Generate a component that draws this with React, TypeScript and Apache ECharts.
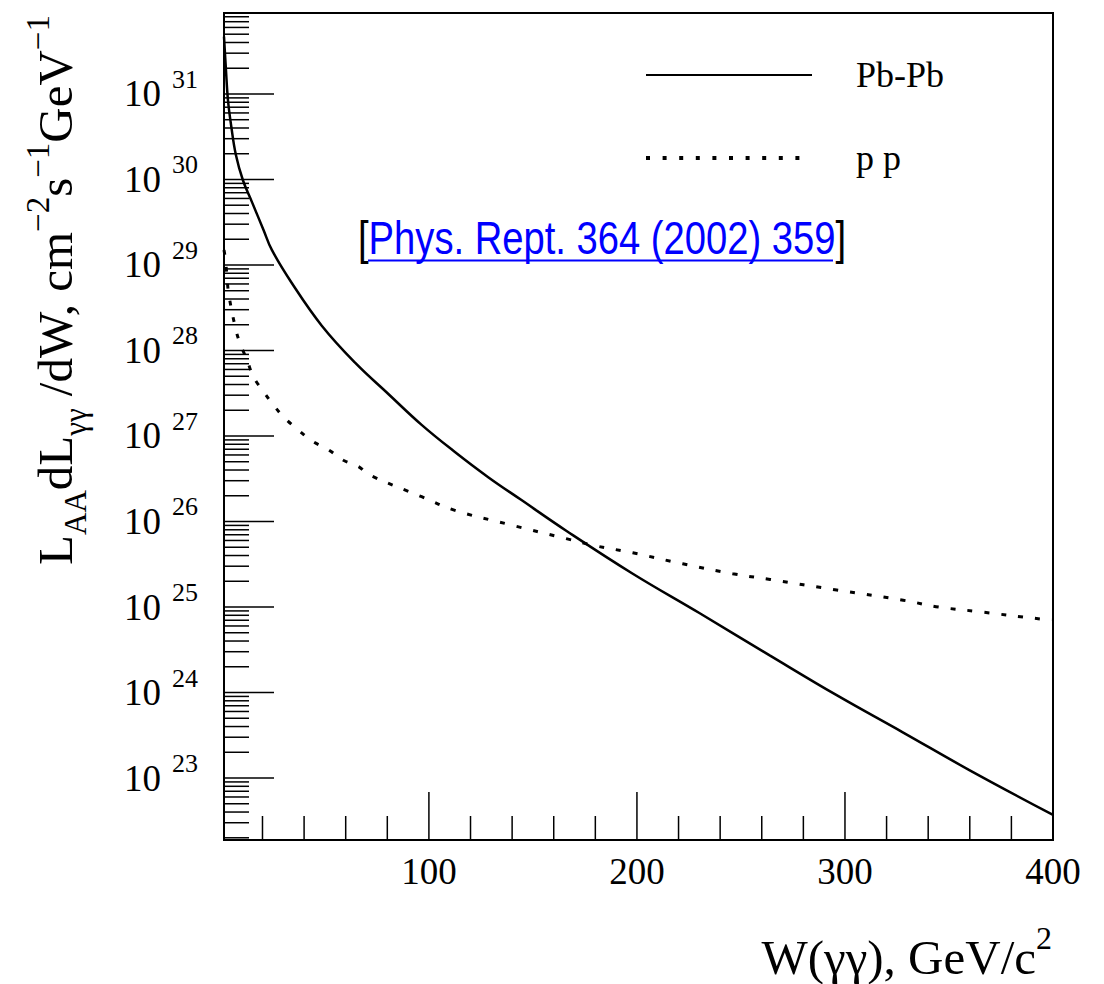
import React, { useEffect, useRef } from "react";
import * as echarts from "echarts";

// ---- data ----
const pbpbW = [1.5, 2.4, 3.4, 5, 7.2, 10.6, 15, 20.5, 24.5, 34, 48.5, 64.5, 80.5, 96.5, 112.5, 128.5, 144.5, 166, 198, 230, 264, 296, 328, 360, 400];
const pbpbL = [4.68e31, 2.0e31, 8.5e30, 4.17e30, 1.95e30, 9.8e29, 5.4e29, 2.57e29, 1.5e29, 6.2e28, 1.95e28, 7.2e27, 3.1e27, 1.35e27, 6.5e26, 3.3e26, 1.78e26, 7.8e25, 2.45e25, 8.5e24, 2.7e24, 9.3e23, 3.4e23, 1.23e23, 3.7e22];

const ppW = [1.5, 2.1, 2.9, 3.7, 6.9, 9.1, 12.5, 15.7, 20.5, 25.3, 30.7, 37.3, 43.7, 51.7, 58.9, 66.1, 71.5, 96.5, 112.5, 138, 166, 180, 198, 222, 246, 264, 296, 328, 345, 363, 395, 400];
const ppL = [1.5e29, 1.2e29, 7.6e28, 4.7e28, 1.88e28, 1.23e28, 7.8e27, 4.9e27, 3.3e27, 2.3e27, 1.62e27, 1.17e27, 8.8e26, 6.9e26, 5.2e26, 4.4e26, 3.5e26, 1.95e26, 1.35e26, 9.3e25, 6.3e25, 5.2e25, 4.3e25, 3.2e25, 2.45e25, 2.1e25, 1.58e25, 1.2e25, 1.0e25, 8.9e24, 7.2e24, 7.1e24];

const seriesNames = ["Pb-Pb", "p p"];

// axis ranges and ticks
const X_MIN = 1.5;
const X_MAX = 400;
const Y_MIN = 1.884e22;
const Y_MAX = 8.85e31;
const xLabelValues = [100, 200, 300, 400];
const xMajorTicks = [100, 200, 300];
const xMinorTicks = [20, 40, 60, 80, 120, 140, 160, 180, 220, 240, 260, 280, 320, 340, 360, 380];
const yDecadeExponents = [22, 23, 24, 25, 26, 27, 28, 29, 30, 31];
const yLabelExponents = [23, 24, 25, 26, 27, 28, 29, 30, 31];
const yMinorMultipliers = [2, 3, 4, 5, 6, 7, 8, 9];

const SERIF = "'Liberation Serif', 'Times New Roman', serif";
const SANS = "'Liberation Sans', Arial, sans-serif";

export default function App() {
  const ref = useRef<HTMLDivElement>(null);

  useEffect(() => {
    if (!ref.current) return;
    const chart = echarts.init(ref.current, undefined, { renderer: "svg" });

    const yMajorData = yLabelExponents.map((e) => [X_MIN, Math.pow(10, e), 50]);
    const yMinorData: number[][] = [];
    yDecadeExponents.forEach((e) => {
      yMinorMultipliers.forEach((m) => {
        const v = m * Math.pow(10, e);
        if (v > Y_MIN && v < Y_MAX) yMinorData.push([X_MIN, v, 25]);
      });
    });
    const yTickData = yMajorData.concat(yMinorData);
    const xTickData = xMajorTicks
      .map((v) => [v, Y_MIN, 48])
      .concat(xMinorTicks.map((v) => [v, Y_MIN, 24]));

    const option: any = {
      animation: false,
      backgroundColor: "#fff",
      grid: {
        left: 224,
        top: 13,
        width: 829,
        height: 827,
        show: true,
        borderColor: "#000",
        borderWidth: 2,
        containLabel: false,
      },
      legend: {
        orient: "vertical",
        left: 639,
        top: 50,
        itemWidth: 166,
        itemHeight: 14,
        itemGap: 43,
        selectedMode: false,
        data: [
          { name: seriesNames[0], lineStyle: { width: 2 } },
          { name: seriesNames[1], lineStyle: { width: 4, type: [4, 12.6] } },
        ],
        itemStyle: { opacity: 0, borderWidth: 0 },
        textStyle: {
          fontFamily: SERIF,
          fontSize: 36,
          color: "#000",
          lineHeight: 40,
          padding: [0, 0, 0, 39],
        },
      },
      xAxis: {
        type: "value",
        min: X_MIN,
        max: X_MAX,
        axisLine: { show: true, onZero: false, lineStyle: { color: "#000", width: 2 } },
        axisTick: { show: false },
        splitLine: { show: false },
        axisLabel: {
          margin: 13,
          fontFamily: SERIF,
          fontSize: 37,
          color: "#000",
          showMinLabel: true,
          showMaxLabel: true,
          formatter: (v: number) => (xLabelValues.indexOf(Math.round(v * 1000) / 1000) >= 0 ? String(Math.round(v)) : ""),
        },
      },
      yAxis: {
        type: "log",
        logBase: 10,
        min: Y_MIN,
        max: Y_MAX,
        splitNumber: 10,
        axisLine: { show: true, onZero: false, lineStyle: { color: "#000", width: 2 } },
        axisTick: { show: false },
        splitLine: { show: false },
        minorTick: { show: false },
        axisLabel: {
          margin: 26,
          formatter: (v: number) => {
            const e = Math.log10(v);
            const r = Math.round(e);
            if (Math.abs(e - r) > 1e-6 || yLabelExponents.indexOf(r) < 0) return "";
            return "{b|10}{s|" + r + "}";
          },
          rich: {
            b: { fontFamily: SERIF, fontSize: 37, color: "#000" },
            s: { fontFamily: SERIF, fontSize: 26, color: "#000", padding: [0, 0, 29, 11] },
          },
        },
      },
      series: [
        {
          name: seriesNames[0],
          type: "line",
          symbol: "none",
          showSymbol: false,
          smooth: 0.4,
          data: pbpbW.map((w, i) => [w, pbpbL[i]]),
          lineStyle: { color: "#000", width: 2.5 },
          itemStyle: { color: "#000" },
          z: 5,
        },
        {
          name: seriesNames[1],
          type: "line",
          symbol: "none",
          showSymbol: false,
          smooth: 0.4,
          data: ppW.map((w, i) => [w, ppL[i]]),
          lineStyle: { color: "#000", width: 3, type: [5, 12] },
          itemStyle: { color: "#000" },
          z: 5,
        },
        {
          name: "yTicks",
          type: "custom",
          coordinateSystem: "cartesian2d",
          silent: true,
          data: yTickData,
          encode: { x: 0, y: 1 },
          renderItem: (params: any, api: any) => {
            const p = api.coord([api.value(0), api.value(1)]);
            const len = api.value(2);
            return {
              type: "line",
              shape: { x1: p[0], y1: p[1], x2: p[0] + len, y2: p[1] },
              style: { stroke: "#000", lineWidth: 1.5 },
            };
          },
          z: 3,
        },
        {
          name: "xTicks",
          type: "custom",
          coordinateSystem: "cartesian2d",
          silent: true,
          data: xTickData,
          encode: { x: 0, y: 1 },
          renderItem: (params: any, api: any) => {
            const p = api.coord([api.value(0), api.value(1)]);
            const len = api.value(2);
            return {
              type: "line",
              shape: { x1: p[0], y1: p[1], x2: p[0], y2: p[1] - len },
              style: { stroke: "#000", lineWidth: 1.5 },
            };
          },
          z: 3,
        },
      ],
      graphic: [
        {
          type: "text",
          x: 55,
          y: 15,
          rotation: Math.PI / 2,
          style: {
            text: "{m|L}{sub|AA}{m|dL}{sub|γγ}{m| /dW, cm}{sup|−2}{m|s}{sup|−1}{m|GeV}{sup|−1}",
            align: "right",
            verticalAlign: "middle",
            fill: "#000",
            rich: {
              m: { fontFamily: SERIF, fontSize: 49, fill: "#000" },
              sub: { fontFamily: SERIF, fontSize: 31, fill: "#000", padding: [40, 0, 0, 0] },
              sup: { fontFamily: SERIF, fontSize: 33, fill: "#000", padding: [0, 0, 34, 0] },
            },
          },
        },
        {
          type: "text",
          x: 1052,
          y: 957,
          style: {
            text: "{m|W(γγ), GeV/c}{sup|2}",
            align: "right",
            verticalAlign: "middle",
            fill: "#000",
            rich: {
              m: { fontFamily: SERIF, fontSize: 49, fill: "#000" },
              sup: { fontFamily: SERIF, fontSize: 32, fill: "#000", padding: [0, 0, 38, 0] },
            },
          },
        },
        {
          type: "text",
          x: 358,
          y: 238,
          scaleX: 0.83,
          style: {
            text: "{k|[}{a|Phys. Rept. 364 (2002) 359}{k|]}",
            align: "left",
            verticalAlign: "middle",
            rich: {
              k: { fontFamily: SANS, fontSize: 46, fill: "#000" },
              a: { fontFamily: SANS, fontSize: 46, fill: "#0000ff" },
            },
          },
        },
        {
          type: "line",
          shape: { x1: 368, y1: 260.5, x2: 833, y2: 260.5 },
          style: { stroke: "#0000ff", lineWidth: 2.2 },
        },
      ],
    };

    chart.setOption(option);
    return () => chart.dispose();
  }, []);

  return (
    <div
      ref={ref}
      style={{ position: "fixed", left: 0, top: 0, width: 1104, height: 984, background: "#fff" }}
    />
  );
}
